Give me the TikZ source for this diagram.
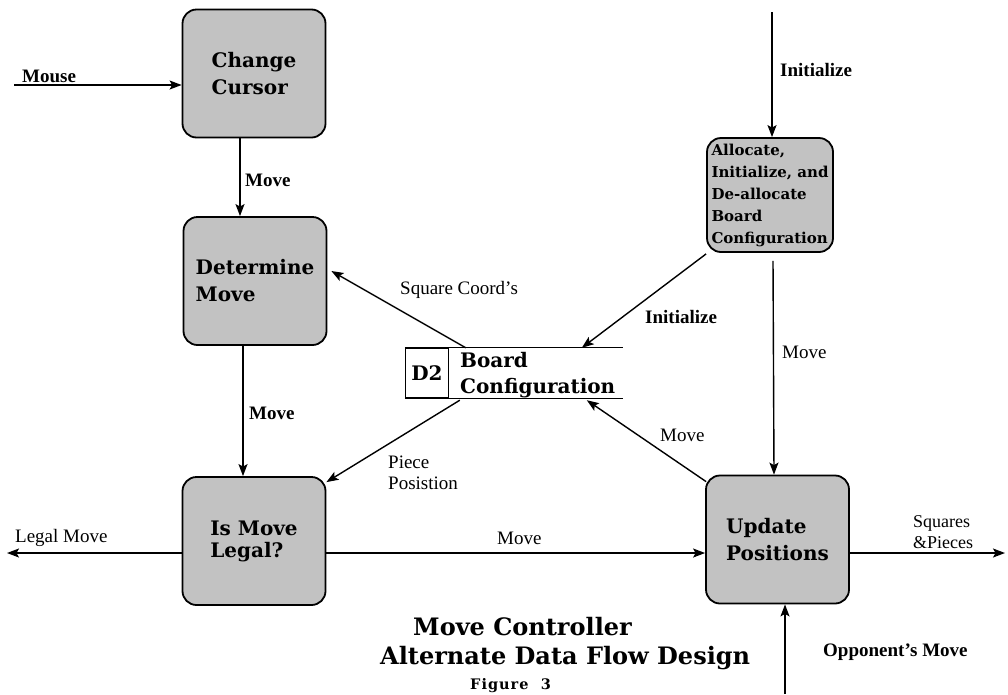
\documentclass[tikz,border=0pt]{standalone}
\usepackage{fontspec}
\setmainfont{Liberation Serif}
\newfontfamily\boxfont{DejaVu Serif}
\newfontfamily\figfont[LetterSpace=7.0]{DejaVu Serif}
\usetikzlibrary{arrows.meta,calc}

\begin{document}
\begin{tikzpicture}[x=1pt,y=-1pt,
  proc/.style={draw, line width=1.8pt, rounded corners=14pt, fill=black!24,
    minimum width=143pt, minimum height=128pt, inner sep=0pt, align=left,
    font=\boxfont\bfseries\fontsize{20}{27}\selectfont},
  flow/.style={line width=1.4pt, -{Stealth[length=12pt,width=9pt,inset=2.5pt]}},
  lbl/.style={anchor=west, inner sep=0pt, align=left, font=\fontsize{19}{21}\selectfont},
  lblb/.style={lbl, font=\bfseries\fontsize{19}{21}\selectfont},
  storeline/.style={line width=1.3pt}]

\useasboundingbox (0,0) rectangle (1008,694);

% processes
\node[proc] (cc) at (254,73.5) {Change\\Cursor};
\node[proc] (dm) at (255,281) {Determine\\Move};
\node[proc, font=\boxfont\bfseries\fontsize{20}{22}\selectfont] (iml) at (254,541) {Is Move\\Legal?};
\node[proc] (up) at (777.5,539.5) {Update\\Positions};
\node[proc, minimum width=126pt, minimum height=114pt,
      font=\boxfont\bfseries\fontsize{15}{22}\selectfont] (al) at (770,195)
      {Allocate,\\Initialize, and\\De-allocate\\Board\\Configuration};

% data store D2
\node[minimum width=218pt, minimum height=50pt, inner sep=0pt] (st) at (514,373) {};
\node[draw, storeline, minimum width=43pt, minimum height=50pt, inner sep=0pt, anchor=west,
      font=\boxfont\bfseries\fontsize{20}{24}\selectfont] (d2) at (st.west) {D2};
\node[anchor=west, align=left, inner sep=0pt,
      font=\boxfont\bfseries\fontsize{20}{26}\selectfont] (stname) at (460,375) {Board\\Configuration};
\draw[storeline] (st.north west) -- (st.north east) (st.south west) -- (st.south east);

% free ends
\coordinate (mouseIn) at (14,85);
\coordinate (legalOut) at (7,553);
\coordinate (sqOut) at (1005,553);
\coordinate (oppIn) at (785,694);
\coordinate (initIn) at (772,12);

% flows
\draw[flow] (mouseIn) -- (mouseIn -| cc.west);
\draw[flow] ($(cc.south)+(-14,0)$) -- ($(dm.north)+(-15,0)$);
\draw[flow] ($(dm.south)+(-12,0)$) -- ($(iml.north)+(-11,0)$);
\draw[flow] ($(iml.west)+(0,12)$) -- (legalOut);
\draw[flow] ($(iml.east)+(0,12)$) -- ($(up.west)+(0,13.5)$);
\draw[flow] ($(up.east)+(0,13.5)$) -- (sqOut);
\draw[flow] (oppIn) -- ($(up.south)+(7.5,0)$);
\draw[flow] (initIn) -- ($(al.north)+(2,0)$);
\draw[flow] ($(al.south)+(3,8)$) -- ($(up.north)+(-3.5,0)$);
\draw[flow] ($(al.south west)+(0,1)$) -- ($(st.north west)+(177,0)$);
\draw[flow] ($(st.north west)+(61,0)$) -- ($(dm.east)+(4,-10)$);
\draw[flow] ($(st.south west)+(55,2)$) -- ($(iml.north east)+(0,6)$);
\draw[flow] ($(up.north west)+(1,7)$) -- ($(st.south west)+(182,2)$);

% flow labels
\node[lblb] (lMouse) at (22,76) {Mouse};
\node[lblb] (lMove1) at (245,180) {Move};
\node[lblb] (lMove2) at (249,413) {Move};
\node[lbl] (lSq) at (400,290) {Square Coord's};
\node[lblb] (lInit1) at (780,70) {Initialize};
\node[lblb] (lInit2) at (645,317) {Initialize};
\node[lbl] (lMove3) at (782,352) {Move};
\node[lbl] (lMove4) at (660,435) {Move};
\node[lbl, font=\fontsize{19}{21}\selectfont] (lPiece) at (388,472.5) {Piece\\Posistion};
\node[lbl] (lLegal) at (15,538) {Legal Move};
\node[lbl] (lMove5) at (497,538) {Move};
\node[lbl, font=\fontsize{18}{21}\selectfont] (lSquares) at (913,532.5) {Squares\\\&Pieces};
\node[lblb] (lOpp) at (823,652) {Opponent's Move};

% caption
\node[anchor=west, inner sep=0pt, font=\boxfont\bfseries\fontsize{24}{28}\selectfont] (t1) at (413,627) {Move Controller};
\node[anchor=west, inner sep=0pt, font=\boxfont\bfseries\fontsize{24}{28}\selectfont] (t2) at (380,658) {Alternate Data Flow Design};
\node[anchor=west, inner sep=0pt, font=\figfont\bfseries\fontsize{14.5}{16}\selectfont] (t3) at (470,686) {Figure\ \ 3};

\end{tikzpicture}
\end{document}
